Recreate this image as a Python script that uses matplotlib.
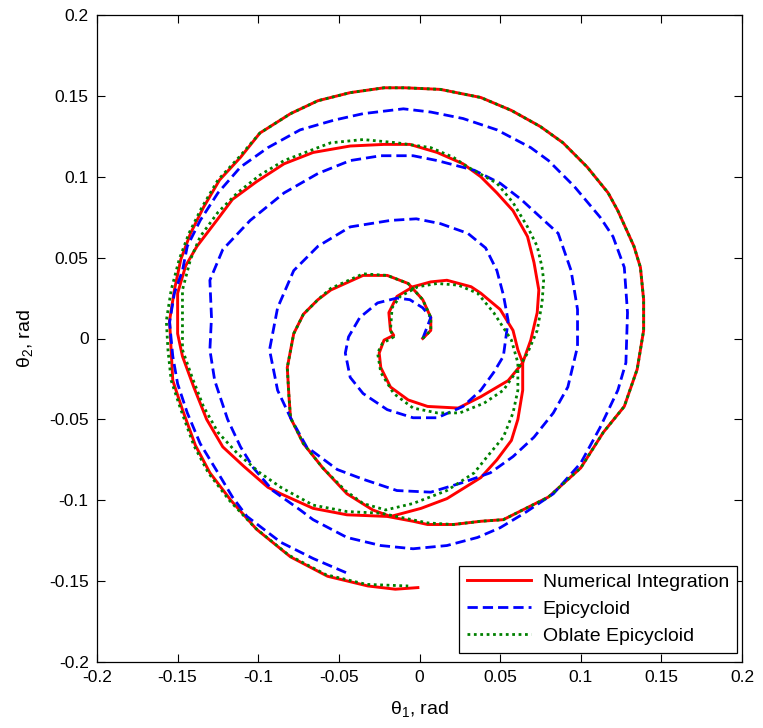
import matplotlib
matplotlib.use('Agg')
import matplotlib.pyplot as plt
import numpy as np

plt.rcParams['font.family'] = ['Liberation Sans', 'DejaVu Sans']
plt.rcParams['mathtext.default'] = 'regular'

# Numerical integration trajectory (theta1, theta2), rad
num_t1 = [0.002, 0.007, 0.007, 0.002, -0.007, -0.020, -0.035, -0.055, -0.063, -0.072,
          -0.078, -0.082, -0.081, -0.080, -0.072, -0.060, -0.045, -0.029, -0.018, -0.014,
          0.001, 0.017, 0.038, 0.048, 0.057, 0.061, 0.064, 0.064, 0.061, 0.058,
          0.050, 0.038, 0.032, 0.017, 0.007, -0.004, -0.014, -0.019, -0.018, -0.016,
          -0.022, -0.025, -0.024, -0.018, -0.007, 0.005, 0.024, 0.038, 0.055, 0.064,
          0.069, 0.073, 0.074, 0.071, 0.067, 0.058, 0.048, 0.038, 0.027, 0.011,
          -0.006, -0.022, -0.043, -0.066, -0.084, -0.101, -0.116, -0.125, -0.138, -0.145,
          -0.150, -0.150, -0.147, -0.140, -0.132, -0.122, -0.109, -0.094, -0.086, -0.066,
          -0.045, -0.020, -0.004, 0.005, 0.021, 0.038, 0.052, 0.080, 0.100, 0.114,
          0.127, 0.135, 0.139, 0.139, 0.137, 0.133, 0.123, 0.117, 0.104, 0.089,
          0.075, 0.057, 0.038, 0.013, -0.009, -0.022, -0.043, -0.063, -0.080, -0.099,
          -0.111, -0.124, -0.134, -0.142, -0.148, -0.152, -0.155, -0.154, -0.153, -0.147,
          -0.139, -0.130, -0.117, -0.101, -0.080, -0.057, -0.032, -0.015, -0.001]
num_t2 = [0.000, 0.005, 0.013, 0.024, 0.034, 0.039, 0.039, 0.030, 0.024, 0.015,
          0.003, -0.018, -0.035, -0.049, -0.065, -0.080, -0.096, -0.106, -0.110, -0.109,
          -0.105, -0.099, -0.086, -0.075, -0.063, -0.050, -0.032, -0.015, -0.007, 0.005,
          0.018, 0.028, 0.032, 0.036, 0.035, 0.032, 0.026, 0.016, 0.005, 0.002,
          -0.001, -0.009, -0.018, -0.030, -0.038, -0.042, -0.043, -0.036, -0.026, -0.015,
          -0.001, 0.016, 0.030, 0.047, 0.063, 0.079, 0.090, 0.100, 0.108, 0.115,
          0.120, 0.120, 0.119, 0.115, 0.108, 0.097, 0.086, 0.074, 0.057, 0.045,
          0.028, 0.003, -0.011, -0.030, -0.050, -0.067, -0.079, -0.092, -0.096, -0.105,
          -0.109, -0.110, -0.113, -0.115, -0.115, -0.113, -0.112, -0.098, -0.080, -0.058,
          -0.042, -0.019, 0.005, 0.024, 0.044, 0.057, 0.079, 0.090, 0.106, 0.121,
          0.131, 0.141, 0.149, 0.154, 0.155, 0.155, 0.152, 0.147, 0.139, 0.127,
          0.112, 0.098, 0.081, 0.065, 0.049, 0.030, 0.011, -0.007, -0.026, -0.044,
          -0.066, -0.083, -0.100, -0.118, -0.135, -0.147, -0.153, -0.155, -0.154]

# Epicycloid approximation
epi_t1 = [0.002, 0.007, 0.002, -0.006, -0.014, -0.026, -0.037, -0.044, -0.046, -0.043,
          -0.035, -0.020, -0.004, 0.011, 0.027, 0.038, 0.046, 0.052, 0.055, 0.052,
          0.048, 0.041, 0.030, 0.013, -0.002, -0.018, -0.043, -0.063, -0.078, -0.088,
          -0.093, -0.088, -0.080, -0.070, -0.051, -0.035, -0.014, 0.007, 0.027, 0.044,
          0.058, 0.071, 0.083, 0.092, 0.098, 0.098, 0.094, 0.086, 0.075, 0.063,
          0.050, 0.034, 0.011, -0.004, -0.024, -0.043, -0.063, -0.084, -0.105, -0.122,
          -0.130, -0.129, -0.130, -0.127, -0.119, -0.111, -0.103, -0.091, -0.074, -0.066,
          -0.045, -0.024, -0.004, 0.017, 0.036, 0.050, 0.065, 0.083, 0.100, 0.112,
          0.123, 0.128, 0.129, 0.127, 0.120, 0.112, 0.096, 0.080, 0.069, 0.048,
          0.027, 0.007, -0.010, -0.035, -0.053, -0.074, -0.094, -0.111, -0.125, -0.136,
          -0.144, -0.147, -0.152, -0.155, -0.153, -0.150, -0.144, -0.136, -0.125, -0.116,
          -0.107, -0.086, -0.066, -0.045]
epi_t2 = [0.000, 0.013, 0.019, 0.024, 0.025, 0.022, 0.013, 0.001, -0.009, -0.024,
          -0.034, -0.044, -0.049, -0.049, -0.042, -0.032, -0.021, -0.011, 0.011, 0.027,
          0.042, 0.056, 0.065, 0.071, 0.074, 0.073, 0.069, 0.057, 0.042, 0.019,
          -0.007, -0.032, -0.049, -0.067, -0.081, -0.087, -0.094, -0.095, -0.089, -0.083,
          -0.073, -0.061, -0.046, -0.030, -0.005, 0.018, 0.042, 0.065, 0.075, 0.086,
          0.096, 0.104, 0.110, 0.113, 0.113, 0.110, 0.102, 0.090, 0.073, 0.055,
          0.036, 0.013, -0.007, -0.026, -0.050, -0.067, -0.080, -0.094, -0.106, -0.112,
          -0.123, -0.128, -0.130, -0.128, -0.123, -0.117, -0.108, -0.096, -0.077, -0.055,
          -0.032, -0.015, 0.016, 0.044, 0.063, 0.075, 0.094, 0.110, 0.118, 0.129,
          0.136, 0.140, 0.142, 0.139, 0.135, 0.129, 0.118, 0.106, 0.090, 0.073,
          0.057, 0.042, 0.028, 0.010, -0.011, -0.028, -0.046, -0.065, -0.083, -0.098,
          -0.110, -0.126, -0.136, -0.145]

# Oblate epicycloid approximation
obl_t1 = [0.002, 0.007, 0.007, 0.002, -0.007, -0.020, -0.035, -0.055, -0.063, -0.072,
          -0.078, -0.082, -0.081, -0.080, -0.072, -0.060, -0.046, -0.035, -0.021, -0.004,
          0.017, 0.034, 0.042, 0.052, 0.058, 0.061, 0.061, 0.057, 0.046, 0.036,
          0.024, 0.011, -0.001, -0.012, -0.017, -0.018, -0.016, -0.023, -0.026, -0.024,
          -0.016, -0.004, 0.011, 0.025, 0.040, 0.052, 0.061, 0.067, 0.073, 0.076,
          0.077, 0.076, 0.073, 0.067, 0.058, 0.048, 0.030, 0.021, 0.007, -0.014,
          -0.035, -0.055, -0.063, -0.084, -0.099, -0.113, -0.125, -0.136, -0.142, -0.147,
          -0.147, -0.147, -0.141, -0.134, -0.125, -0.113, -0.099, -0.086, -0.066, -0.045,
          -0.024, 0.005, 0.021, 0.038, 0.052, 0.080, 0.100, 0.114, 0.127, 0.135,
          0.139, 0.139, 0.137, 0.133, 0.123, 0.117, 0.104, 0.089, 0.075, 0.057,
          0.038, 0.013, -0.009, -0.022, -0.043, -0.063, -0.080, -0.099, -0.112, -0.125,
          -0.135, -0.143, -0.149, -0.154, -0.157, -0.156, -0.154, -0.148, -0.140, -0.131,
          -0.118, -0.102, -0.081, -0.058, -0.033, -0.007]
obl_t2 = [0.000, 0.005, 0.013, 0.024, 0.034, 0.039, 0.040, 0.031, 0.024, 0.015,
          0.003, -0.018, -0.035, -0.049, -0.065, -0.080, -0.094, -0.102, -0.106, -0.102,
          -0.094, -0.083, -0.073, -0.061, -0.046, -0.032, -0.015, -0.001, 0.016, 0.028,
          0.033, 0.034, 0.032, 0.026, 0.019, 0.005, 0.001, -0.003, -0.009, -0.021,
          -0.034, -0.043, -0.046, -0.046, -0.040, -0.032, -0.019, -0.009, 0.005, 0.022,
          0.036, 0.044, 0.057, 0.069, 0.084, 0.096, 0.106, 0.112, 0.118, 0.121,
          0.123, 0.121, 0.118, 0.110, 0.101, 0.090, 0.078, 0.063, 0.049, 0.030,
          0.010, -0.007, -0.024, -0.042, -0.058, -0.071, -0.083, -0.092, -0.103, -0.107,
          -0.108, -0.114, -0.115, -0.113, -0.112, -0.098, -0.080, -0.058, -0.042, -0.019,
          0.005, 0.024, 0.044, 0.057, 0.079, 0.090, 0.106, 0.121, 0.131, 0.141,
          0.149, 0.154, 0.155, 0.155, 0.152, 0.147, 0.139, 0.127, 0.112, 0.098,
          0.081, 0.065, 0.049, 0.030, 0.011, -0.007, -0.026, -0.044, -0.066, -0.083,
          -0.100, -0.117, -0.134, -0.146, -0.152, -0.153]

tick_vals = [-0.2, -0.15, -0.1, -0.05, 0, 0.05, 0.1, 0.15, 0.2]
tick_labels = ['-0.2', '-0.15', '-0.1', '-0.05', '0', '0.05', '0.1', '0.15', '0.2']

fig = plt.figure(figsize=(7.63, 7.28), dpi=100)
ax = fig.add_axes([97 / 763, 1 - 662 / 728, 645 / 763, 647 / 728])

ax.plot(num_t1, num_t2, color='#ff0000', linewidth=2.1, label='Numerical Integration')
ax.plot(epi_t1, epi_t2, color='#0000ff', linewidth=2.0, linestyle=(0, (3.7, 1.8)),
        label='Epicycloid')
ax.plot(obl_t1, obl_t2, color='#008000', linewidth=2.0, linestyle=(0, (1, 1.3)),
        label='Oblate Epicycloid')

ax.set_xlim(-0.2, 0.2)
ax.set_ylim(-0.2, 0.2)
ax.set_xticks(tick_vals)
ax.set_xticklabels(tick_labels)
ax.set_yticks(tick_vals)
ax.set_yticklabels(tick_labels)
ax.tick_params(direction='in', length=6, width=0.8, top=True, right=True,
               labelsize=12.5, pad=6)
for s in ax.spines.values():
    s.set_linewidth(0.9)

ax.set_xlabel('θ$_1$, rad', fontsize=14, labelpad=10)
ax.set_ylabel('θ$_2$, rad', fontsize=14, labelpad=10)

leg = ax.legend(loc='lower right', fontsize=14, fancybox=False, framealpha=1,
                edgecolor='black', borderpad=0.4, handlelength=3.3,
                handletextpad=0.6, labelspacing=0.48, borderaxespad=0,
                bbox_to_anchor=(0.992, 0.014))
leg.get_frame().set_linewidth(0.9)

fig.savefig('out.png', dpi=100)
